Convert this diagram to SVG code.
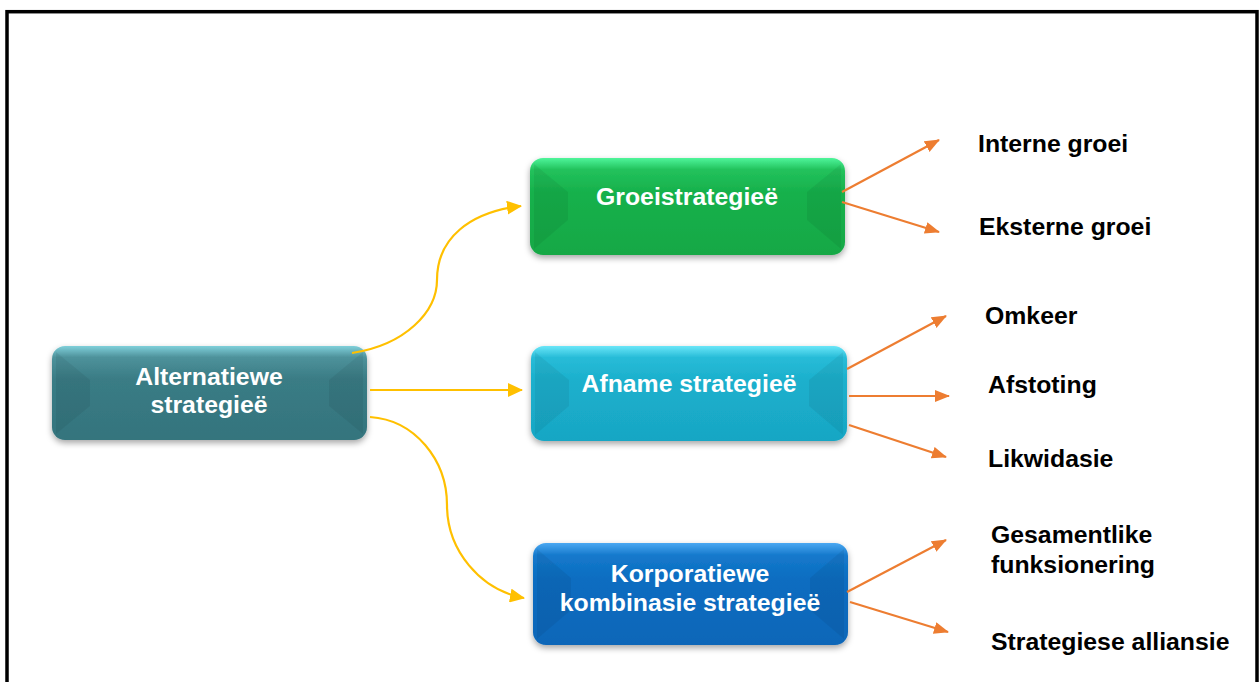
<svg xmlns="http://www.w3.org/2000/svg" width="1260" height="682" viewBox="0 0 1260 682">
  <style>
    .node-text { font-family: "Liberation Sans", Arial, sans-serif; font-weight: bold; font-size: 24.8px; fill: #ffffff; text-anchor: middle; }
    .label { font-family: "Liberation Sans", Arial, sans-serif; font-weight: bold; font-size: 24.8px; fill: #000000; }
    .yellow { fill: none; stroke: #ffc000; stroke-width: 2.2; }
    .orange { fill: none; stroke: #ed7d31; stroke-width: 2.2; }
    .bevel-dark { fill: #000000; opacity: 0.06; }
  </style>
  <defs>
    <filter id="shadow" x="-10%" y="-20%" width="120%" height="150%">
      <feDropShadow dx="0" dy="3" stdDeviation="3" flood-color="#000000" flood-opacity="0.35"/>
    </filter>
    <linearGradient id="gTeal" x1="0" y1="0" x2="0" y2="1">
      <stop offset="0" stop-color="#7fd0da"/>
      <stop offset="0.12" stop-color="#4e929b"/>
      <stop offset="0.35" stop-color="#3a7c85"/>
      <stop offset="1" stop-color="#34747d"/>
    </linearGradient>
    <linearGradient id="gGreen" x1="0" y1="0" x2="0" y2="1">
      <stop offset="0" stop-color="#4ff59b"/>
      <stop offset="0.12" stop-color="#22c25c"/>
      <stop offset="0.35" stop-color="#17b14c"/>
      <stop offset="1" stop-color="#14a845"/>
    </linearGradient>
    <linearGradient id="gCyan" x1="0" y1="0" x2="0" y2="1">
      <stop offset="0" stop-color="#6ae6f8"/>
      <stop offset="0.12" stop-color="#28bcd8"/>
      <stop offset="0.35" stop-color="#1cb0cd"/>
      <stop offset="1" stop-color="#18a6c4"/>
    </linearGradient>
    <linearGradient id="gBlue" x1="0" y1="0" x2="0" y2="1">
      <stop offset="0" stop-color="#4aa8f2"/>
      <stop offset="0.12" stop-color="#1579cc"/>
      <stop offset="0.35" stop-color="#0b6dc1"/>
      <stop offset="1" stop-color="#0966b8"/>
    </linearGradient>
    <marker id="arrowY" markerUnits="userSpaceOnUse" markerWidth="16" markerHeight="14" refX="14" refY="7" orient="auto">
      <path d="M0,0 L15,7 L0,14 Z" fill="#ffc000"/>
    </marker>
    <marker id="arrowO" markerUnits="userSpaceOnUse" markerWidth="16" markerHeight="14" refX="14" refY="6" orient="auto">
      <path d="M0,0 L15,6 L0,12 Z" fill="#ed7d31"/>
    </marker>
  </defs>

  <rect x="0" y="0" width="1260" height="682" fill="#ffffff"/>

  <!-- outer frame -->
  <rect x="7" y="11.7" width="1250" height="700" fill="none" stroke="#000000" stroke-width="3.5"/>

  <!-- root node -->
  <g id="node-alternatiewe">
    <rect x="52" y="346" width="315" height="94" rx="13" fill="url(#gTeal)" filter="url(#shadow)"/>
    <polygon class="bevel-dark" points="56,352 90,380 90,406 56,434"/>
    <polygon class="bevel-dark" points="363,352 329,380 329,406 363,434"/>
    <text class="node-text" x="209" y="385">Alternatiewe</text>
    <text class="node-text" x="209" y="413">strategieë</text>
  </g>

  <g id="node-groei">
    <rect x="530" y="158" width="315" height="97" rx="13" fill="url(#gGreen)" filter="url(#shadow)"/>
    <polygon class="bevel-dark" points="534,164 568,192 568,220 534,249"/>
    <polygon class="bevel-dark" points="841,164 807,192 807,220 841,249"/>
    <text class="node-text" x="687" y="205">Groeistrategieë</text>
  </g>

  <g id="node-afname">
    <rect x="531" y="346" width="316" height="95" rx="13" fill="url(#gCyan)" filter="url(#shadow)"/>
    <polygon class="bevel-dark" points="535,352 569,380 569,406 535,435"/>
    <polygon class="bevel-dark" points="843,352 809,380 809,406 843,435"/>
    <text class="node-text" x="689" y="392">Afname strategieë</text>
  </g>

  <g id="node-korporatiewe">
    <rect x="533" y="543" width="315" height="102" rx="13" fill="url(#gBlue)" filter="url(#shadow)"/>
    <polygon class="bevel-dark" points="537,549 571,578 571,610 537,639"/>
    <polygon class="bevel-dark" points="844,549 810,578 810,610 844,639"/>
    <text class="node-text" x="690" y="582">Korporatiewe</text>
    <text class="node-text" x="690" y="611">kombinasie strategieë</text>
  </g>

  <!-- connectors, drawn over the box edges -->
  <g id="connectors">
    <path class="yellow" d="M352,353 C405,345 437,312 437,280 C437,238 470,212 521,206" marker-end="url(#arrowY)"/>
    <path class="yellow" d="M370,390 L522,390" marker-end="url(#arrowY)"/>
    <path class="yellow" d="M370,417 C415,420 447,460 447,505 C447,550 480,590 524,598" marker-end="url(#arrowY)"/>

    <path class="orange" d="M842,192 L939,140" marker-end="url(#arrowO)"/>
    <path class="orange" d="M842,202 L939,232" marker-end="url(#arrowO)"/>
    <path class="orange" d="M847,369 L946,316" marker-end="url(#arrowO)"/>
    <path class="orange" d="M849,396 L949,396" marker-end="url(#arrowO)"/>
    <path class="orange" d="M849,425 L946,457" marker-end="url(#arrowO)"/>
    <path class="orange" d="M847,592 L946,540" marker-end="url(#arrowO)"/>
    <path class="orange" d="M850,602 L948,632" marker-end="url(#arrowO)"/>
  </g>

  <!-- leaf labels -->
  <g id="label-interne"><text class="label" x="978" y="152">Interne groei</text></g>
  <g id="label-eksterne"><text class="label" x="979" y="235">Eksterne groei</text></g>
  <g id="label-omkeer"><text class="label" x="985" y="324">Omkeer</text></g>
  <g id="label-afstoting"><text class="label" x="988" y="393">Afstoting</text></g>
  <g id="label-likwidasie"><text class="label" x="988" y="467">Likwidasie</text></g>
  <g id="label-gesamentlike">
    <text class="label" x="991" y="543">Gesamentlike</text>
    <text class="label" x="991" y="573">funksionering</text>
  </g>
  <g id="label-alliansie"><text class="label" x="991" y="650">Strategiese alliansie</text></g>
</svg>
